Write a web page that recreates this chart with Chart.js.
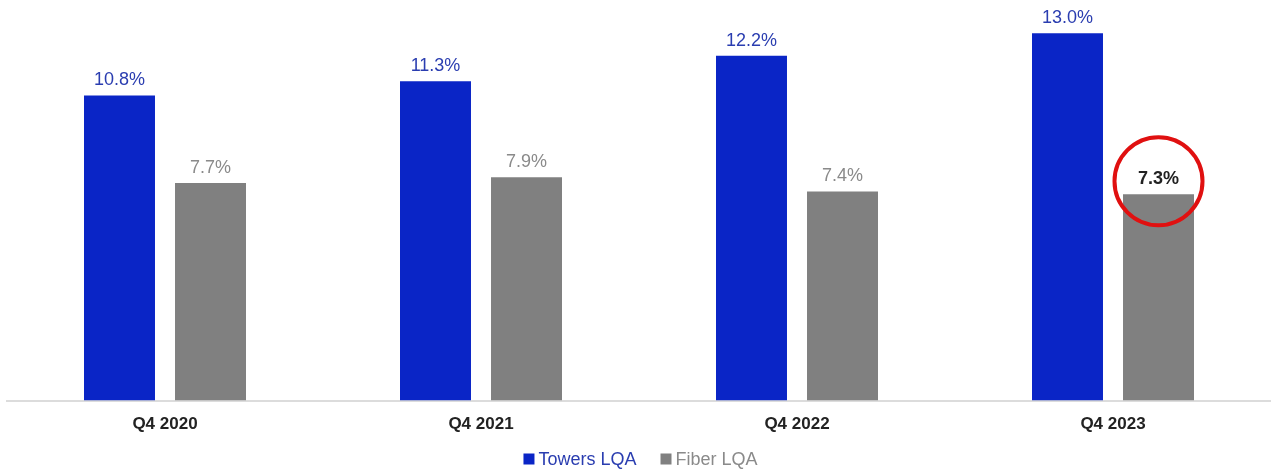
<!DOCTYPE html>
<html>
<head>
<meta charset="utf-8">
<script src="https://cdn.jsdelivr.net/npm/chart.js"></script>
<style>
  html,body{margin:0;padding:0;background:#fff;}
  #wrap{width:1271px;height:473px;}
</style>
</head>
<body>
<div id="wrap"><canvas id="lqa"></canvas></div>
<script>
/* ---- data ---- */
const quarters = ['Q4 2020','Q4 2021','Q4 2022','Q4 2023'];
const towersLQA = [10.8, 11.3, 12.2, 13.0];
const fiberLQA  = [7.7, 7.9, 7.4, 7.3];
const highlight = {dataset:1, index:3}; // circled value

const BLUE='#0a25c6', GRAY='#808080';
const TEXT_COLORS=['#2a3db0','#8a8a8a'];
const FONT='"Liberation Sans", Arial, sans-serif';

// value labels above each bar + the red ring on the highlighted one
const barLabels = {
  id:'barLabels',
  afterDatasetsDraw(chart){
    const ctx=chart.ctx;
    ctx.save();
    ctx.textAlign='center';
    ctx.textBaseline='alphabetic';
    chart.data.datasets.forEach((ds,di)=>{
      chart.getDatasetMeta(di).data.forEach((bar,i)=>{
        const hl = di===highlight.dataset && i===highlight.index;
        ctx.font = (hl?'bold ':'')+'18px '+FONT;
        ctx.fillStyle = hl ? '#222' : TEXT_COLORS[di];
        ctx.fillText(ds.data[i].toFixed(1)+'%', bar.x, bar.y-10);
        if(hl){
          ctx.beginPath();
          ctx.arc(bar.x, bar.y-13, 44, 0, Math.PI*2);
          ctx.lineWidth=4;
          ctx.strokeStyle='#e01010';
          ctx.stroke();
        }
      });
    });
    ctx.restore();
  }
};

// small legend row under the axis: square + coloured series name
const bottomLegend = {
  id:'bottomLegend',
  afterDraw(chart){
    const ctx=chart.ctx, y=459, box=11, gapBox=4, gapItem=24;
    ctx.save();
    ctx.font='18px '+FONT;
    ctx.textBaseline='middle';
    const items=chart.data.datasets.map((ds,i)=>({ds,i,w:ctx.measureText(ds.label).width}));
    const total=items.reduce((s,it)=>s+box+gapBox+it.w,0)+gapItem*(items.length-1);
    let x=(chart.width-total)/2+5;
    items.forEach(it=>{
      ctx.fillStyle=it.ds.backgroundColor;
      ctx.fillRect(x, y-box/2, box, box);
      x+=box+gapBox;
      ctx.fillStyle=TEXT_COLORS[it.i];
      ctx.fillText(it.ds.label, x, y+1);
      x+=it.w+gapItem;
    });
    ctx.restore();
  }
};

new Chart(document.getElementById('lqa'),{
  type:'bar',
  data:{
    labels:quarters,
    datasets:[
      {label:'Towers LQA', data:towersLQA, backgroundColor:BLUE, barPercentage:0.78, categoryPercentage:0.576},
      {label:'Fiber LQA',  data:fiberLQA,  backgroundColor:GRAY, barPercentage:0.78, categoryPercentage:0.576}
    ]
  },
  options:{
    responsive:true,
    maintainAspectRatio:false,
    animation:false,
    layout:{padding:{top:5,left:7,right:0,bottom:32}},
    plugins:{
      tooltip:{enabled:false},
      legend:{display:false}
    },
    scales:{
      x:{
        grid:{display:false},
        border:{display:true,color:'#dcdcdc',width:2},
        ticks:{color:'#222',padding:6,font:{family:FONT,size:17,weight:'bold'}}
      },
      y:{
        display:false,
        min:0,
        max:14
      }
    }
  },
  plugins:[barLabels,bottomLegend]
});
</script>
</body>
</html>
